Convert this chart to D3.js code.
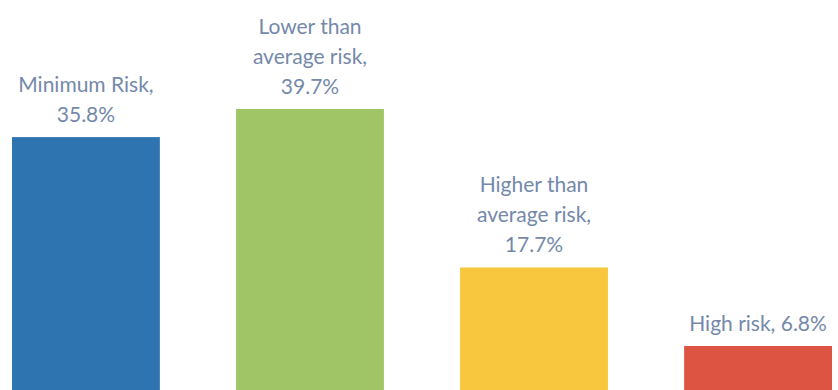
<!DOCTYPE html>
<html>
<head>
<meta charset="utf-8">
<script src="https://cdn.jsdelivr.net/npm/d3@7"></script>
<style>
  html, body { margin: 0; padding: 0; background: #fff; }
  svg { display: block; }
</style>
</head>
<body>
<svg id="chart" width="838" height="390"></svg>
<script>
const categories = ["Minimum Risk", "Lower than average risk", "Higher than average risk", "High risk"];
const values = [35.8, 39.7, 17.7, 6.8];
const labelLines = [
    ["Minimum Risk,", "35.8%"],
    ["Lower than", "average risk,", "39.7%"],
    ["Higher than", "average risk,", "17.7%"],
    ["High risk, 6.8%"]
];
const colors = ["#2e74b0", "#9fc566", "#f9c73e", "#de5443"];

const svg = d3.select("#chart");

const x = d3.scaleBand()
    .domain(categories)
    .range([12, 832])
    .paddingInner(0.34)
    .paddingOuter(0);

const y = d3.scaleLinear()
    .domain([0, 39.7])
    .range([395, 109]);

svg.selectAll("rect.bar")
    .data(categories)
    .join("rect")
    .attr("class", "bar")
    .attr("x", d => x(d))
    .attr("width", x.bandwidth())
    .attr("y", (d, i) => y(values[i]))
    .attr("height", (d, i) => y(0) - y(values[i]))
    .attr("fill", (d, i) => colors[i]);

// data labels above bars
const labels = svg.selectAll("text.label")
    .data(categories)
    .join("text")
    .attr("class", "label")
    .attr("text-anchor", "middle")
    .style("font-family", "Lato, 'Open Sans', sans-serif")
    .style("font-size", "21px")
    .attr("fill", "#7489aa");

labels.each(function (d, i) {
    const lines = labelLines[i];
    const cx = x(d) + x.bandwidth() / 2;
    const top = y(values[i]);
    d3.select(this).selectAll("tspan")
        .data(lines)
        .join("tspan")
        .attr("x", cx)
        .attr("y", (l, j) => top - 15 - (lines.length - 1 - j) * 30)
        .text(l => l);
});
</script>
</body>
</html>
